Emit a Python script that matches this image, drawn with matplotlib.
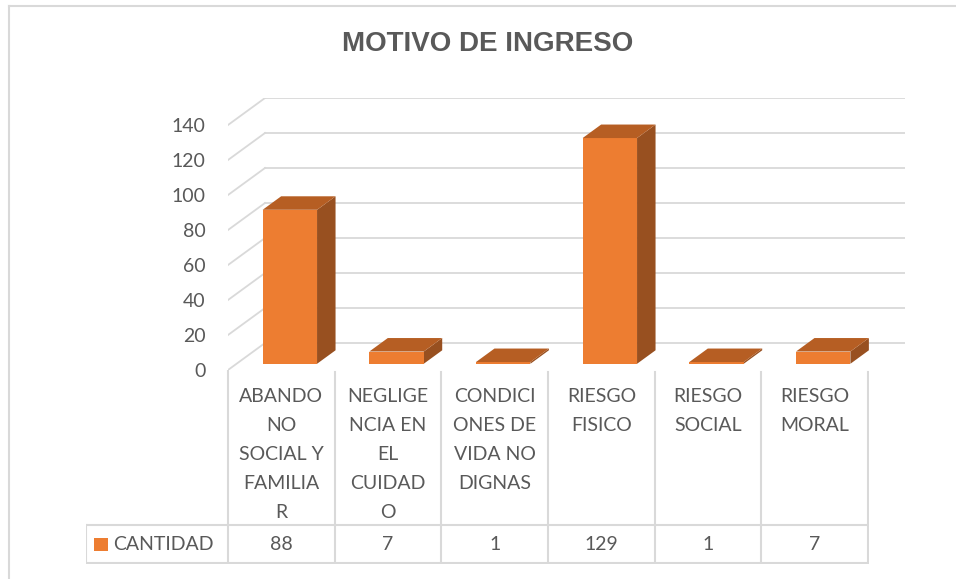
import numpy as np
from matplotlib import pyplot as plt
from matplotlib.patches import Polygon, Rectangle
from matplotlib.lines import Line2D

categorias = ["ABANDONO SOCIAL Y FAMILIAR", "NEGLIGENCIA EN EL CUIDADO",
              "CONDICIONES DE VIDA NO DIGNAS", "RIESGO FISICO",
              "RIESGO SOCIAL", "RIESGO MORAL"]
# etiquetas tal como Excel las corta en la tabla
etiquetas = ["ABANDO\nNO\nSOCIAL Y\nFAMILIA\nR",
             "NEGLIGE\nNCIA EN\nEL\nCUIDAD\nO",
             "CONDICI\nONES DE\nVIDA NO\nDIGNAS",
             "RIESGO\nFISICO",
             "RIESGO\nSOCIAL",
             "RIESGO\nMORAL"]
cantidad = [88, 7, 1, 129, 1, 7]
serie = "CANTIDAD"
titulo = "MOTIVO DE INGRESO"
y_ticks = np.arange(0, 141, 20)

naranja = "#ED7D31"
naranja_top = "#B65E23"
naranja_lado = "#985020"
gris_linea = "#D9D9D9"
gris_texto = "#595959"
fuente = "Lato"

W, H = 956, 579
fig = plt.figure(figsize=(W / 100, H / 100), dpi=100)


def px_box(x0, y0, x1, y1):
    # caja en pixeles (origen arriba-izquierda) -> fracciones de figura
    return [x0 / W, (H - y1) / H, (x1 - x0) / W, (y1 - y0) / H]


# borde del grafico
fig.add_artist(Line2D([9 / W, 9 / W], [0, 1 - 6 / H], color=gris_linea, lw=1.5))
fig.add_artist(Line2D([9 / W, 1], [1 - 6 / H, 1 - 6 / H], color=gris_linea, lw=1.5))

fig.text(488 / W, 1 - 44 / H, titulo, ha="center", va="center",
         fontsize=20, fontweight="bold", color=gris_texto,
         family="Liberation Sans")

# profundidad del "3D" en unidades de datos
DX = 37 / (640 / 6)
DY = 27 / 1.75
ancho = 0.51
f0, f1 = 0.23, 0.73

ax = fig.add_axes(px_box(228, 98, 905, 370))
ax.set_xlim(-0.5, 5.5 + DX)
ax.set_ylim(0, 140 + DY)
for s in ax.spines.values():
    s.set_visible(False)
ax.set_xticks([])
ax.set_yticks(y_ticks)
ax.tick_params(axis="y", length=0, pad=16, labelsize=14, labelcolor=gris_texto)
for lab in ax.get_yticklabels():
    lab.set_family(fuente)

n = len(cantidad)
for v in y_ticks:
    ax.plot([-0.5 + DX, n - 0.5 + DX], [v + DY, v + DY], color=gris_linea, lw=1.3, zorder=1)
    ax.plot([-0.5, -0.5 + DX], [v, v + DY], color=gris_linea, lw=1.3, zorder=1)

for i, v in enumerate(cantidad):
    x0 = i - ancho / 2 + f0 * DX
    x1 = i + ancho / 2 + f0 * DX
    y0 = f0 * DY
    ddx = (f1 - f0) * DX
    ddy = (f1 - f0) * DY
    frente = Rectangle((x0, y0), ancho, v, facecolor=naranja, edgecolor="none", zorder=3)
    arriba = Polygon([(x0, y0 + v), (x1, y0 + v), (x1 + ddx, y0 + v + ddy), (x0 + ddx, y0 + v + ddy)],
                     closed=True, facecolor=naranja_top, edgecolor="none", zorder=3)
    lado = Polygon([(x1, y0), (x1 + ddx, y0 + ddy), (x1 + ddx, y0 + v + ddy), (x1, y0 + v)],
                   closed=True, facecolor=naranja_lado, edgecolor="none", zorder=3)
    ax.add_patch(lado)
    ax.add_patch(frente)
    ax.add_patch(arriba)

# tabla de datos debajo del grafico
tx = fig.add_axes(px_box(86, 370, 869, 564))
izq = -0.5 - 142 / (640 / 6)
tx.set_xlim(izq, 5.5 + 1 / (640 / 6))
tx.set_ylim(194, 0)
tx.axis("off")
for k in range(n + 1):
    tx.plot([k - 0.5, k - 0.5], [0 if k == 0 else 2, 193], color=gris_linea, lw=1.5)
for yy in (155, 193):
    tx.plot([izq, n - 0.5], [yy, yy], color=gris_linea, lw=1.5)
tx.plot([izq, izq], [155, 193], color=gris_linea, lw=1.5)

for i, (lab, v) in enumerate(zip(etiquetas, cantidad)):
    tx.text(i, 18, lab, ha="center", va="top", fontsize=14, color=gris_texto,
            family=fuente, linespacing=1.86)
    tx.text(i, 174, str(v), ha="center", va="center", fontsize=14,
            color=gris_texto, family=fuente)

px = 640 / 6
tx.add_patch(Rectangle((izq + 8 / px, 168), 14 / px, 13, facecolor=naranja, edgecolor="none"))
tx.text(izq + 27 / px, 174, serie, ha="left", va="center", fontsize=14,
        color=gris_texto, family=fuente)

fig.savefig("out.png", dpi=100, facecolor="white")
